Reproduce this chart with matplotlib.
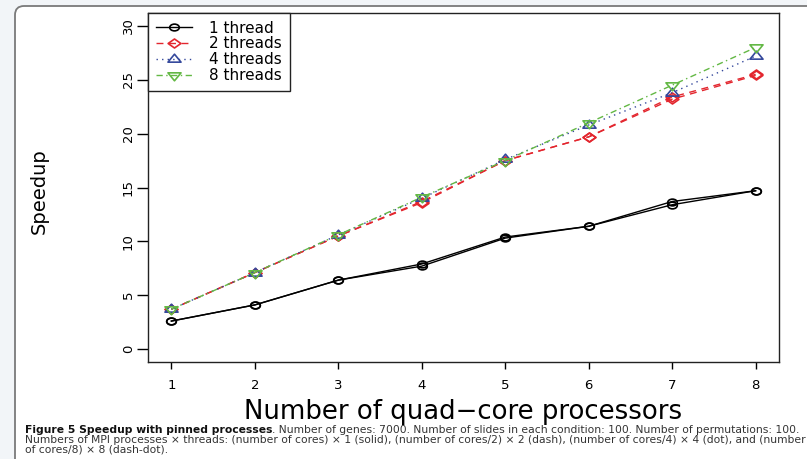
import matplotlib
matplotlib.use("Agg")
import numpy as np
import matplotlib.pyplot as plt
from matplotlib.path import Path
from matplotlib.patches import FancyBboxPatch
from matplotlib.transforms import IdentityTransform

# ---- data -------------------------------------------------------------
processors = [1, 2, 3, 4, 5, 6, 7, 8]

speedup_1thread_run1 = [2.6, 4.1, 6.4, 7.7, 10.3, 11.4, 13.4, 14.7]
speedup_1thread_run2 = [2.6, 4.1, 6.4, 7.9, 10.4, 11.4, 13.7, 14.7]
speedup_2threads_run1 = [3.7, 7.1, 10.5, 13.6, 17.5, 19.7, 23.2, 25.4]
speedup_2threads_run2 = [3.7, 7.1, 10.5, 13.7, 17.5, 19.7, 23.4, 25.5]
speedup_4threads = [3.7, 7.1, 10.6, 14.0, 17.6, 20.8, 23.8, 27.2]
speedup_8threads = [3.7, 7.1, 10.6, 14.1, 17.5, 21.0, 24.5, 28.0]

series_labels = ["1 thread", "2 threads", "4 threads", "8 threads"]
y_ticks = [0, 5, 10, 15, 20, 25, 30]

caption_bold = "Figure 5 Speedup with pinned processes"
caption_rest = (". Number of genes: 7000. Number of slides in each condition: 100. "
                "Number of permutations: 100.")
caption_line2 = ("Numbers of MPI processes \u00d7 threads: (number of cores) \u00d7 1 (solid), "
                 "(number of cores/2) \u00d7 2 (dash), (number of cores/4) \u00d7 4 (dot), and (number")
caption_line3 = "of cores/8) \u00d7 8 (dash-dot)."

# ---- marker shapes (slightly wide) -------------------------------------
SX = 1.42


def widen(verts, codes=None):
    v = np.asarray(verts, dtype=float) * [SX, 1.0]
    return Path(v, codes)


circ = Path.unit_circle()
m_circle = widen(circ.vertices, circ.codes)
m_diamond = widen([(0, 1), (1, 0), (0, -1), (-1, 0), (0, 1)],
                  [Path.MOVETO, Path.LINETO, Path.LINETO, Path.LINETO, Path.CLOSEPOLY])
tri = [(0, 1), (-0.866, -0.5), (0.866, -0.5), (0, 1)]
tri_codes = [Path.MOVETO, Path.LINETO, Path.LINETO, Path.CLOSEPOLY]
m_tri_up = widen(tri, tri_codes)
m_tri_down = widen([(x, -y) for x, y in tri], tri_codes)

# ---- figure -------------------------------------------------------------
W, H = 807, 459
fig = plt.figure(figsize=(W / 100, H / 100), dpi=100, facecolor="#f2f5f8")

# white rounded panel behind the chart and caption
panel = FancyBboxPatch((15, -30), 850, H - 6 + 30,
                       boxstyle="round,pad=0,rounding_size=9",
                       transform=IdentityTransform(), facecolor="white",
                       edgecolor="#7a7a7a", linewidth=1.3, zorder=-10)
fig.add_artist(panel)

left, right, top, bottom = 148, 779, 13, 362
ax = fig.add_axes([left / W, 1 - bottom / H, (right - left) / W, (bottom - top) / H])
ax.set_facecolor("white")

styles = [
    dict(color="black", marker=m_circle, ms=6.9, dashes=()),
    dict(color="#e3262e", marker=m_diamond, ms=9.2, dashes=(5, 4)),
    dict(color="#34489c", marker=m_tri_up, ms=9.4, dashes=(1, 3)),
    dict(color="#63b844", marker=m_tri_down, ms=9.4, dashes=(4.5, 2.5, 1, 2.5)),
]
runs = [
    [speedup_1thread_run1, speedup_1thread_run2],
    [speedup_2threads_run1, speedup_2threads_run2],
    [speedup_4threads],
    [speedup_8threads],
]

handles = []
for label, st, group in zip(series_labels, styles, runs):
    for i, vals in enumerate(group):
        ln, = ax.plot(processors, vals, color=st["color"], lw=1.0,
                      marker=st["marker"], ms=st["ms"], mfc="none",
                      mec=st["color"], mew=1.2,
                      label=label if i == 0 else None)
        if st["dashes"]:
            ln.set_dashes(st["dashes"])
        if i == 0:
            handles.append(ln)

ax.set_xlim(0.72, 8.28)
ax.set_ylim(-1.2, 31.2)
ax.set_xticks(processors)
ax.set_yticks(y_ticks)
ax.set_xticklabels([str(p) for p in processors], fontsize=9.5, family="DejaVu Sans")
ax.set_yticklabels([str(t) for t in y_ticks], fontsize=9.5, family="DejaVu Sans",
                   rotation=90, va="center")
ax.tick_params(axis="x", direction="out", length=5, width=1.0, pad=7, colors="black")
ax.tick_params(axis="y", direction="out", length=8, width=1.0, pad=1.5, colors="black")
for sp in ax.spines.values():
    sp.set_linewidth(1.0)
    sp.set_color("#222222")

ax.set_xlabel("Number of quad\u2212core processors", fontsize=18.7, family="DejaVu Sans")
ax.xaxis.set_label_coords(0.5, -37 / (bottom - top))
ax.set_ylabel("Speedup", fontsize=14, family="DejaVu Sans")
ax.yaxis.set_label_coords((49 - left) / (right - left), 0.49)

leg = ax.legend(handles=handles, loc="upper left", bbox_to_anchor=(0, 1),
                borderaxespad=0, fancybox=False, framealpha=1,
                edgecolor="#222222", prop=dict(family="DejaVu Sans", size=11),
                handlelength=2.4, handletextpad=1.1, borderpad=0.5,
                labelspacing=0.05)
leg.get_frame().set_linewidth(1.0)

# ---- caption ------------------------------------------------------------
x0 = 25 / W
size = 6.6
b = fig.text(x0, 1 - 433 / H, caption_bold, fontsize=size, weight="bold",
             color="#111111", family="DejaVu Sans")
r = fig.text(x0, 1 - 433 / H, caption_rest, fontsize=size, color="#333333",
             family="DejaVu Sans")
l2 = fig.text(x0, 1 - 443 / H, caption_line2, fontsize=size, color="#333333",
              family="DejaVu Sans")
l3 = fig.text(x0, 1 - 452.5 / H, caption_line3, fontsize=size, color="#333333",
              family="DejaVu Sans")

renderer = fig.canvas.get_renderer()
total = b.get_window_extent(renderer).width + r.get_window_extent(renderer).width
size *= 772 / total
for t in (b, r, l2, l3):
    t.set_fontsize(size)
wb = b.get_window_extent(renderer).width
r.set_x(x0 + wb / W)

fig.savefig("out.png", dpi=100, facecolor=fig.get_facecolor())
